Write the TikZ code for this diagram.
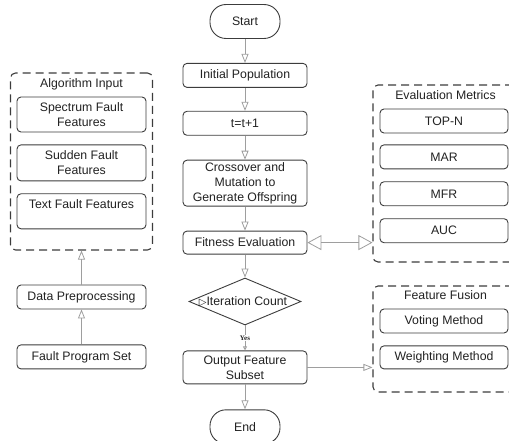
\documentclass[tikz,border=0pt]{standalone}
\usepackage{fontspec}
\setmainfont{Liberation Sans}
\newfontfamily\symfont{DejaVu Sans}
\newfontfamily\yesfont{Liberation Serif}
\usetikzlibrary{arrows.meta,positioning,calc,shapes.geometric}
\definecolor{edge}{HTML}{3C3C3C}
\definecolor{link}{HTML}{9E9E9E}
\definecolor{ink}{HTML}{222222}
\newcommand{\triglyph}{{\symfont\fontsize{10}{10}\selectfont ▷}}

\begin{document}
\begin{tikzpicture}[
    x=1pt, y=1pt,
    font=\fontsize{12.3}{15}\selectfont, text=ink,
    box/.style={rectangle, draw=edge, line width=0.9pt, fill=white, minimum width=124pt, minimum height=24pt, inner sep=1pt, text centered, align=center, rounded corners=4pt},
    sidebox/.style={box, minimum width=129pt},
    metric/.style={box, minimum width=128pt},
    term/.style={box, minimum width=70pt, minimum height=34pt, rounded corners=16pt},
    decision/.style={diamond, draw=edge, line width=0.9pt, fill=white, minimum width=112pt, minimum height=47pt, inner sep=0pt},
    group/.style={rectangle, draw=edge, line width=1.1pt, dash pattern=on 8pt off 5pt, rounded corners=5pt},
    title/.style={inner sep=0pt},
    arrow/.style={-{Triangle[open, length=9pt, width=7pt]}, draw=link, line width=0.8pt},
    smallarrow/.style={-{Triangle[open, length=4pt, width=4pt]}, draw=link, line width=0.8pt},
    bigarrow/.style={{Triangle[open, length=14pt, width=15pt]}-{Triangle[open, length=14pt, width=15pt]}, draw=link, line width=0.8pt},
]
\useasboundingbox (0,0) rectangle (509,-441);

% groups
\node[group, minimum width=142pt, minimum height=177pt] (alg) at (81.5,-161.5) {};
\node[group, minimum width=145pt, minimum height=177pt] (eval) at (445.5,-173.5) {};
\node[group, minimum width=145pt, minimum height=106pt] (fusion) at (445.5,-339) {};
\node[title] (algt) at ($(alg.north)+(0,-12pt)$) {Algorithm Input};
\node[title] (evalt) at ($(eval.north)+(0,-11pt)$) {Evaluation Metrics};
\node[title] (fusiont) at ($(fusion.north)+(0,-10pt)$) {Feature Fusion};

% main flow
\node[term] (start) at (245,-21.5) {Start};
\node[box, below=24pt of start] (init) {Initial Population};
\node[box, below=23pt of init] (tinc) {t=t+1};
\node[box, below=24pt of tinc, minimum height=46pt] (cross) {Crossover and\\Mutation to\\Generate Offspring};
\node[box, below=24pt of cross, minimum height=23pt] (fit) {Fitness Evaluation};
\node[decision, below=23pt of fit, label={center:{\hspace*{-4pt}\triglyph Iteration Count}}] (dec) {};
\node[box, below=25pt of dec, minimum height=33pt] (out) {Output Feature\\Subset};
\node[term, below=25pt of out] (end) {End};

% inputs
\node[sidebox, minimum height=35pt] (spec) at (81.5,-114.5) {Spectrum Fault\\Features};
\node[sidebox, below=12pt of spec, minimum height=36pt] (sud) {Sudden Fault\\Features};
\node[sidebox, below=12pt of sud, minimum height=35pt] (txt) {Text Fault Features\\~};
\node[sidebox] (data) at (81.5,-297) {Data Preprocessing};
\node[sidebox, below=35pt of data] (fps) {Fault Program Set};

% metrics
\node[metric] (top) at (444,-121) {TOP-N};
\node[metric, below=11pt of top] (mar) {MAR};
\node[metric, below=12pt of mar] (mfr) {MFR};
\node[metric, below=12pt of mfr] (auc) {AUC};
\node[metric] (vote) at (444,-321) {Voting Method};
\node[metric, below=12pt of vote, minimum height=23pt] (weight) {Weighting Method};

\draw[arrow] (start) -- (init);
\draw[arrow] (init) -- (tinc);
\draw[arrow] (tinc) -- (cross);
\draw[arrow] (cross) -- (fit);
\draw[arrow] (fit) -- (dec);
\draw[smallarrow] (dec) -- node[midway, fill=white, inner sep=0.5pt, font=\yesfont\bfseries\fontsize{7}{8}\selectfont] {Yes} (out);
\draw[arrow] (out) -- (end);
\draw[arrow] (fps) -- (data);
\draw[arrow] (data) -- (alg);
\draw[bigarrow] (fit.east) -- (fit.east -| eval.west);
\draw[arrow] (out.east) -- (out.east -| fusion.west);
\end{tikzpicture}
\end{document}
